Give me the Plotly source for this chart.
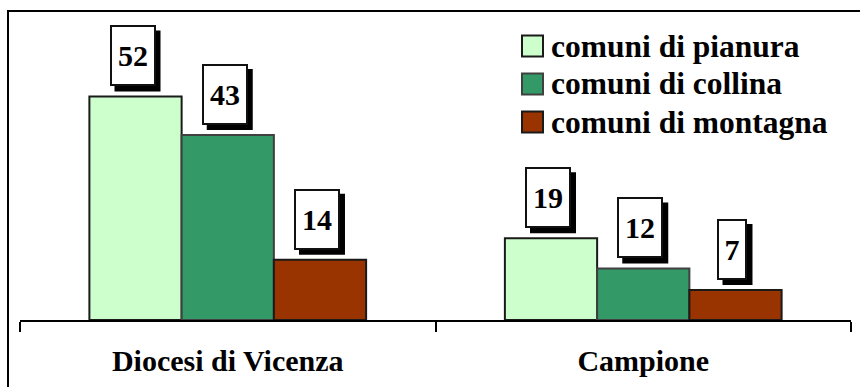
import plotly.graph_objects as go

categories = ["Diocesi di Vicenza", "Campione"]
series_names = ["comuni di pianura", "comuni di collina", "comuni di montagna"]
pianura = [52, 19]
collina = [43, 12]
montagna = [14, 7]
series_values = [pianura, collina, montagna]
fill_colors = ["#CCFFCC", "#339966", "#993300"]
line_colors = ["#1a1a1a", "#404040", "#1a1a1a"]

FONT = "Liberation Serif, DejaVu Serif, serif"
W, H = 860, 387
ML, MR, MT, MB = 20, 9, 19, 67
PW = W - ML - MR
PH = H - MT - MB
BARGAP = 0.334

def px2paper_x(px):
    return (px - ML) / PW

def px2paper_y(py):
    return (H - MB - py) / PH

fig = go.Figure()
for name, vals, fc, lc in zip(series_names, series_values, fill_colors, line_colors):
    fig.add_trace(go.Bar(
        x=categories, y=vals, name=name,
        marker=dict(color=fc, line=dict(color=lc, width=2)),
        showlegend=False, hoverinfo="x+y+name",
    ))

# value labels with drop shadow
nser = len(series_values)
bw = (1 - BARGAP) / nser
annotations = []
shapes = []
BOX_H = 61
for si, vals in enumerate(series_values):
    off = (si - (nser - 1) / 2) * bw
    for ci, v in enumerate(vals):
        txt = str(v)
        w = 16 * len(txt) + 10
        # shadow (pixel-sized shape anchored on the data point)
        shapes.append(dict(type="rect", xref="x", yref="y",
                           xsizemode="pixel", ysizemode="pixel",
                           xanchor=ci + off, yanchor=v,
                           x0=-3 - (w + 4) / 2 + 5, x1=-3 + (w + 4) / 2 + 5,
                           y0=5, y1=5 + BOX_H,
                           fillcolor="black", line=dict(width=0), layer="above"))
        annotations.append(dict(x=ci + off, y=v, xref="x", yref="y", text=txt,
                                showarrow=False, xanchor="center", yanchor="bottom",
                                width=w, height=BOX_H - 4, borderwidth=2, borderpad=0,
                                xshift=-3, yshift=10, bgcolor="white",
                                bordercolor="#111111",
                                font=dict(family=FONT, size=30, weight="bold", color="black")))

# custom legend
leg_x0, sq = 522, 21
leg_rows = [46, 84, 122]
for name, fc, lc, yc in zip(series_names, fill_colors, line_colors, leg_rows):
    shapes.append(dict(type="rect", xref="paper", yref="paper",
                       x0=px2paper_x(leg_x0), x1=px2paper_x(leg_x0 + sq),
                       y0=px2paper_y(yc + sq / 2), y1=px2paper_y(yc - sq / 2),
                       fillcolor=fc, line=dict(color=lc, width=2)))
    annotations.append(dict(xref="paper", yref="paper", x=px2paper_x(leg_x0 + sq + 6),
                            y=px2paper_y(yc), xanchor="left", yanchor="middle",
                            text=name, showarrow=False,
                            font=dict(family=FONT, size=31.5, weight="bold", color="black")))

# chart area frame (left and top edges)
shapes.append(dict(type="line", xref="paper", yref="paper",
                   x0=px2paper_x(8), x1=px2paper_x(8), y0=px2paper_y(11), y1=px2paper_y(H + 5),
                   line=dict(color="black", width=2)))
shapes.append(dict(type="line", xref="paper", yref="paper",
                   x0=px2paper_x(7), x1=px2paper_x(W + 5), y0=px2paper_y(11), y1=px2paper_y(11),
                   line=dict(color="black", width=2)))

fig.update_layout(
    width=W, height=H,
    margin=dict(l=ML, r=MR, t=MT, b=MB, pad=0),
    paper_bgcolor="white", plot_bgcolor="white",
    barmode="group", bargap=BARGAP, bargroupgap=0,
    showlegend=False,
    annotations=annotations, shapes=shapes,
    xaxis=dict(type="category", showline=True, linecolor="black", linewidth=2,
               ticks="outside", tickson="boundaries", ticklen=10, tickwidth=2,
               tickcolor="black", showgrid=False, zeroline=False,
               ticklabelstandoff=13,
               tickfont=dict(family=FONT, size=30, weight="bold", color="black")),
    yaxis=dict(visible=False, range=[0, 70], showgrid=False, zeroline=False),
)

fig.write_html("out.html")
